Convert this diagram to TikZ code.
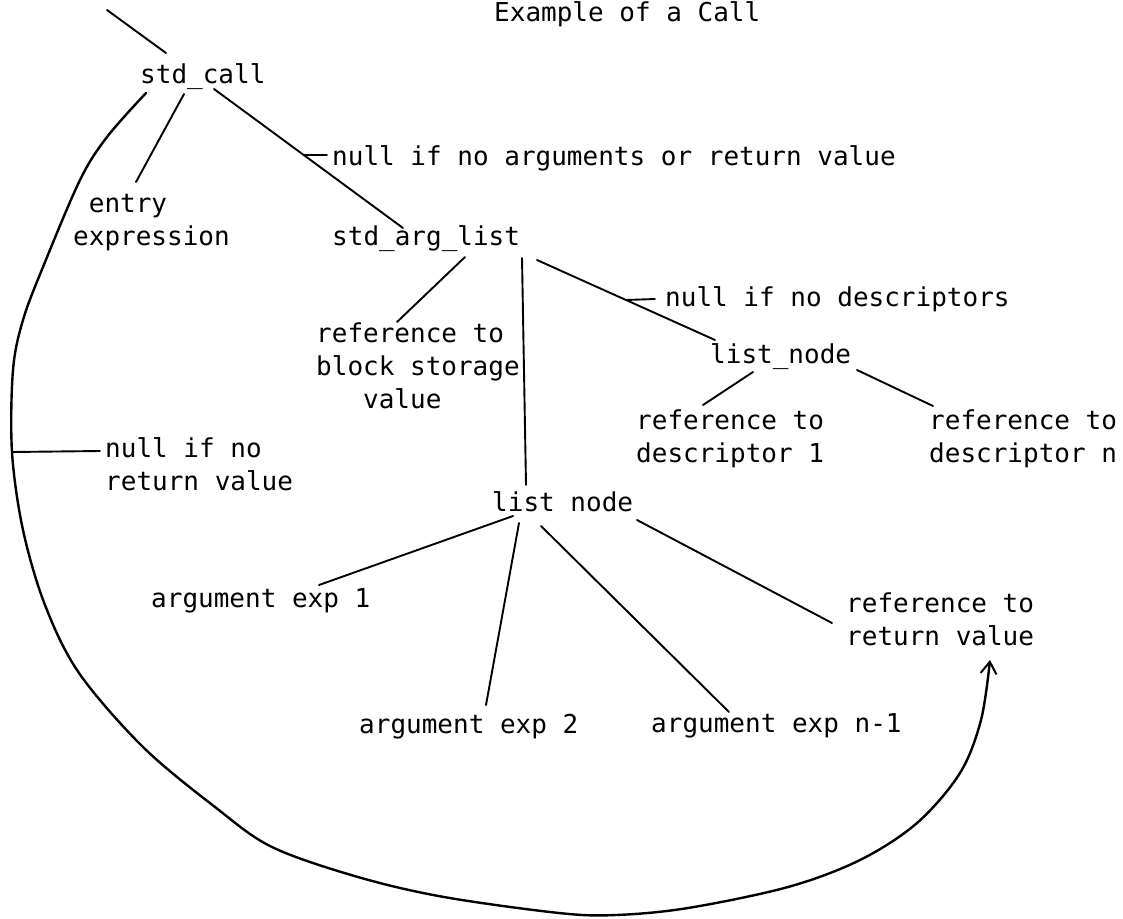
\documentclass[tikz,border=0pt]{standalone}
\usepackage{fontspec}
\newfontfamily\plotfont{DejaVu Sans Mono}
\usetikzlibrary{arrows.meta}
\tikzset{
  lbl/.style={anchor=base west, inner sep=0pt, align=left,
    font=\plotfont\fontsize{26}{33}\selectfont},
  link/.style={line width=1.9pt, line cap=round},
  back/.style={line width=2.4pt, line cap=round, -{Straight Barb[length=12pt, width=16pt, line width=2pt]}},
}
\begin{document}
\begin{tikzpicture}[x=1pt, y=-1pt]
  \useasboundingbox (0,0) rectangle (1123,918);
  % labels (multi-line ones sit on their last line)
  \node[lbl] (title) at (494,21) {Example of a Call};
  \node[lbl] (call) at (140,83) {std\_call};
  \node[lbl] (entry) at (73,245) {\phantom{e}entry\\expression};
  \node[lbl] (nullargs) at (332,165) {null if no arguments or return value};
  \node[lbl] (arglist) at (332,245) {std\_arg\_list};
  \node[lbl] (block) at (316,408) {reference to\\block storage\\\phantom{val}value};
  \node[lbl] (nulldesc) at (665,306) {null if no descriptors};
  \node[lbl] (listd) at (710,363) {list\_node};
  \node[lbl] (desc1) at (636,462) {reference to\\descriptor 1};
  \node[lbl] (descn) at (929,462) {reference to\\descriptor n};
  \node[lbl] (listn) at (492,511) {list node};
  \node[lbl] (arg1) at (151,607) {argument exp 1};
  \node[lbl] (arg2) at (359,733) {argument exp 2};
  \node[lbl] (argn) at (651,732) {argument exp n-1};
  \node[lbl] (ret) at (846,645) {reference to\\return value};
  \node[lbl] (nullret) at (105,490) {null if no\\return value};
  \coordinate (topin) at (107,10);
  \coordinate (hook) at (12,452);
  % tree
  \draw[link] (topin) -- ([xshift=26pt,yshift=30pt]call.base west);
  \draw[link] ([xshift=44pt,yshift=-11pt]call.base west) -- ([xshift=63pt,yshift=63pt]entry.base west);
  \draw[link] ([xshift=74pt,yshift=-6pt]call.base west) -- coordinate[pos=0.475] (argshook)
    ([xshift=71pt,yshift=17pt]arglist.base west);
  \draw[link] (argshook) -- ([xshift=-5pt,yshift=10pt]nullargs.base west);
  \draw[link] ([xshift=133pt,yshift=-12pt]arglist.base west) -- ([xshift=81pt,yshift=86pt]block.base west);
  \draw[link] ([xshift=190pt,yshift=-13pt]arglist.base west) -- ([xshift=34pt,yshift=26pt]listn.base west);
  \draw[link] ([xshift=205pt,yshift=-15pt]arglist.base west) -- coordinate[pos=0.5] (deschook)
    ([xshift=5pt,yshift=23pt]listd.base west);
  \draw[link] (deschook) -- ([xshift=-10pt,yshift=7pt]nulldesc.base west);
  \draw[link] ([xshift=43pt,yshift=-9pt]listd.base west) -- ([xshift=67pt,yshift=57pt]desc1.base west);
  \draw[link] ([xshift=147pt,yshift=-7pt]listd.base west) -- ([xshift=4pt,yshift=56pt]descn.base west);
  \draw[link] ([xshift=21pt,yshift=-5pt]listn.base west) -- ([xshift=168pt,yshift=22pt]arg1.base west);
  \draw[link] ([xshift=27pt,yshift=-12pt]listn.base west) -- ([xshift=127pt,yshift=28pt]arg2.base west);
  \draw[link] ([xshift=49pt,yshift=-15pt]listn.base west) -- ([xshift=78pt,yshift=20pt]argn.base west);
  \draw[link] ([xshift=145pt,yshift=-9pt]listn.base west) -- ([xshift=-14pt,yshift=22pt]ret.base west);
  % return value loop
  \draw[back] plot[smooth, tension=0.55] coordinates {([xshift=6pt,yshift=-10pt]call.base west)
    (107,137) (80,180) (43,267) (23,320) (13,370) (hook) (23,530) (45,605) (79,673)
    (143,747) (215,807) (272,847) (358,877) (444,897) (559,913) (616,915) (688,908)
    (788,887) (860,860) (917,823) (960,773) (981,720) ([xshift=144pt,yshift=-15pt]ret.base west)};
  \draw[link] (hook) -- ([xshift=-5pt,yshift=39pt]nullret.base west);
\end{tikzpicture}
\end{document}
